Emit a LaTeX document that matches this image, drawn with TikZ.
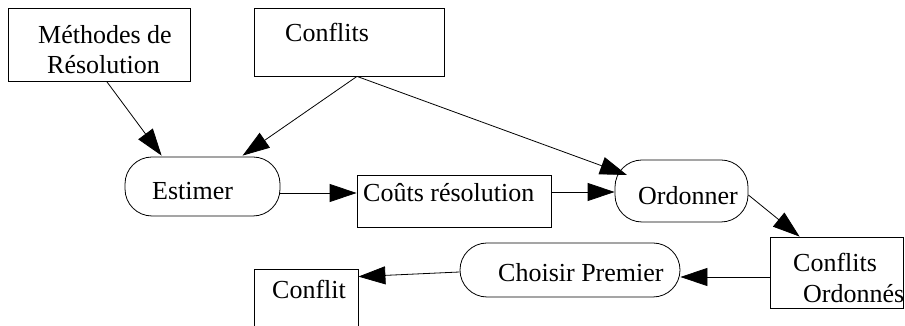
\documentclass[tikz,border=0pt]{standalone}
\usepackage{fontspec}
\setmainfont{Liberation Serif}
\usetikzlibrary{arrows.meta}

\tikzset{
  shapebox/.style={draw, line width=0.8pt, inner sep=0pt, rectangle},
  procbox/.style={draw, line width=0.8pt, inner sep=0pt, rectangle, rounded corners=27pt},
  lbl/.style={anchor=base west, inner sep=0pt, font=\fontsize{26}{30}\selectfont},
  flow/.style={line width=0.8pt, -{Triangle[length=27pt,width=18pt]}}
}

\begin{document}
\begin{tikzpicture}[x=1pt,y=1pt]
  \useasboundingbox (0,0) rectangle (905,326);
  \clip (0,0) rectangle (905,326);

  % data stores
  \node[shapebox, minimum width=182pt, minimum height=73pt] (meth) at (99,281.5) {};
  \node[shapebox, minimum width=190pt, minimum height=68pt] (conf) at (349,284) {};
  \node[shapebox, minimum width=194pt, minimum height=52pt] (couts) at (454,125) {};
  \node[shapebox, minimum width=133pt, minimum height=71pt] (confo) at (836.5,53.5) {};
  \node[shapebox, minimum width=104pt, minimum height=80pt] (one) at (306,17) {};

  % processes
  \node[procbox, minimum width=155pt, minimum height=59pt] (est) at (202.5,139.5) {};
  \node[procbox, minimum width=133pt, minimum height=62pt] (ord) at (681.5,135) {};
  \node[procbox, minimum width=220pt, minimum height=54pt] (chois) at (570,56) {};

  % labels
  \node[lbl] (tmeth1) at (38,282) {Méthodes de};
  \node[lbl] (tmeth2) at (47,252) {Résolution};
  \node[lbl] (tconf) at (285,284) {Conflits};
  \node[lbl] (test) at (152,126) {Estimer};
  \node[lbl] (tcouts) at (363,124) {Coûts résolution};
  \node[lbl] (tord) at (638,121) {Ordonner};
  \node[lbl] (tconfo1) at (793,54) {Conflits};
  \node[lbl] (tconfo2) at (803,23) {Ordonnés};
  \node[lbl] (tchois) at (498,44) {Choisir Premier};
  \node[lbl] (tone) at (272,27) {Conflit};

  % connectors
  \draw[flow] ([xshift=99pt]meth.south west) -- ([xshift=37pt,yshift=1pt]est.north west);
  \draw[flow] ([xshift=8pt]conf.south) -- ([xshift=118pt,yshift=1pt]est.north west);
  \draw[flow] ([xshift=8pt]conf.south) -- ([xshift=-54.5pt,yshift=16pt]ord.center);
  \draw[flow] ([yshift=-6.5pt]est.east) -- ([yshift=8pt]couts.west);
  \draw[flow] ([yshift=9pt]couts.east) -- ([yshift=-1pt]ord.west);
  \draw[flow] ([yshift=-4pt]ord.east) -- ([xshift=30pt]confo.north west);
  \draw[flow] ([yshift=-4.5pt]confo.west) -- ([yshift=-7pt]chois.east);
  \draw[flow] ([yshift=-2pt]chois.west) -- ([yshift=-8pt]one.north east);
\end{tikzpicture}
\end{document}
